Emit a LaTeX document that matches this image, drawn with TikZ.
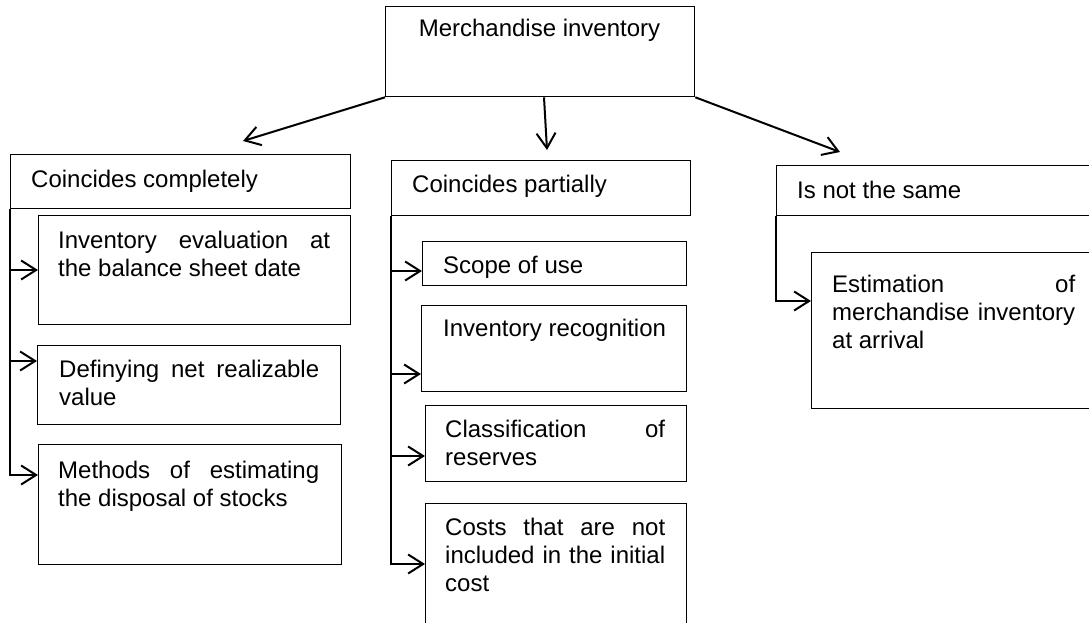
\documentclass[tikz,border=0pt]{standalone}
\usepackage{fontspec}
\setmainfont{Liberation Sans}
\usetikzlibrary{arrows.meta}
\tikzset{
  box/.style={draw, line width=1.3pt, inner sep=0pt, anchor=north west},
  txt/.style={inner sep=0pt, anchor=base west, font=\fontsize{24}{28}\selectfont},
  conn/.style={line width=2pt, -{Straight Barb[length=15pt,width=19pt]}},
  trunk/.style={line width=2pt}
}
\newcommand{\rbox}[5]{\node[box, minimum width={#4pt-#2pt}, minimum height={#5pt-#3pt}] (#1) at (#2,#3) {};}
\newcommand{\tx}[5]{\node[txt] (#1) at (#2,#3) {\parbox[t]{#4pt}{#5}};}
\newcommand{\J}[1]{\makebox[\linewidth][s]{#1}\\}
\begin{document}
\begin{tikzpicture}[x=1pt,y=-1pt]
\useasboundingbox (0,0) rectangle (1089,623);
\clip (0,0) rectangle (1089,623);
% boxes
\rbox{top}{385}{6}{694}{96}
\rbox{h1}{10}{154}{350}{208}
\rbox{b1}{38}{215}{350}{324}
\rbox{b2}{37}{345}{340}{424}
\rbox{b3}{38}{444}{341}{564}
\rbox{h2}{391}{160}{690}{215}
\rbox{m1}{422}{241}{686}{285}
\rbox{m2}{421}{305}{686}{391}
\rbox{m3}{425}{405}{686}{481}
\rbox{m4}{425}{503}{686}{640}
\rbox{h3}{776}{165}{1110}{215}
\rbox{r1}{811}{252}{1110}{408}
% texts
\node[txt, anchor=base] (topt) at (539.5,37) {Merchandise inventory};
\node[txt] (h1t) at (31,187) {Coincides completely};
\node[txt] (h2t) at (412,192) {Coincides partially};
\node[txt] (h3t) at (797,198) {Is not the same};
\tx{b1t}{58}{248}{272}{\J{Inventory evaluation at}the balance sheet date}
\tx{b2t}{59}{377}{260}{\J{Definying net realizable}value}
\tx{b3t}{58}{478}{261}{\J{Methods of estimating}the disposal of stocks}
\node[txt] (m1t) at (443,273) {Scope of use};
\node[txt] (m2t) at (443,336) {Inventory recognition};
\tx{m3t}{445}{437}{220}{\J{Classification of}reserves}
\tx{m4t}{445}{535}{220}{\J{Costs that are not}\J{included in the initial}cost}
\tx{r1t}{832}{292}{243}{\J{Estimation of}\J{merchandise inventory}at arrival}
% top connectors
\coordinate (t1) at (243,141);
\coordinate (t2) at (547,150);
\coordinate (t3) at (840,152);
\draw[conn] (top.south west) -- (t1);
\draw[conn] ([xshift=159pt]top.south west) -- (t2);
\draw[conn] (top.south east) -- (t3);
% left branch
\coordinate (a1) at ([yshift=-55pt]b1.north west);
\coordinate (a2) at ([yshift=-16pt]b2.north west);
\coordinate (a3) at ([yshift=-31pt]b3.north west);
\draw[conn] (h1.south west) |- (a3);
\draw[conn] (h1.west |- a1) -- (a1);
\draw[conn] (h1.west |- a2) -- (a2);
% middle branch
\coordinate (c1) at ([yshift=-30pt]m1.north west);
\coordinate (c2) at ([yshift=-69pt]m2.north west);
\coordinate (c3) at ([yshift=-51pt]m3.north west);
\coordinate (c4) at ([yshift=-61pt]m4.north west);
\draw[conn] (h2.south west) |- (c4);
\draw[conn] (h2.west |- c1) -- (c1);
\draw[conn] (h2.west |- c2) -- (c2);
\draw[conn] (h2.west |- c3) -- (c3);
% right branch
\coordinate (d1) at ([yshift=-49pt]r1.north west);
\draw[conn] (h3.south west) |- (d1);
\end{tikzpicture}
\end{document}
